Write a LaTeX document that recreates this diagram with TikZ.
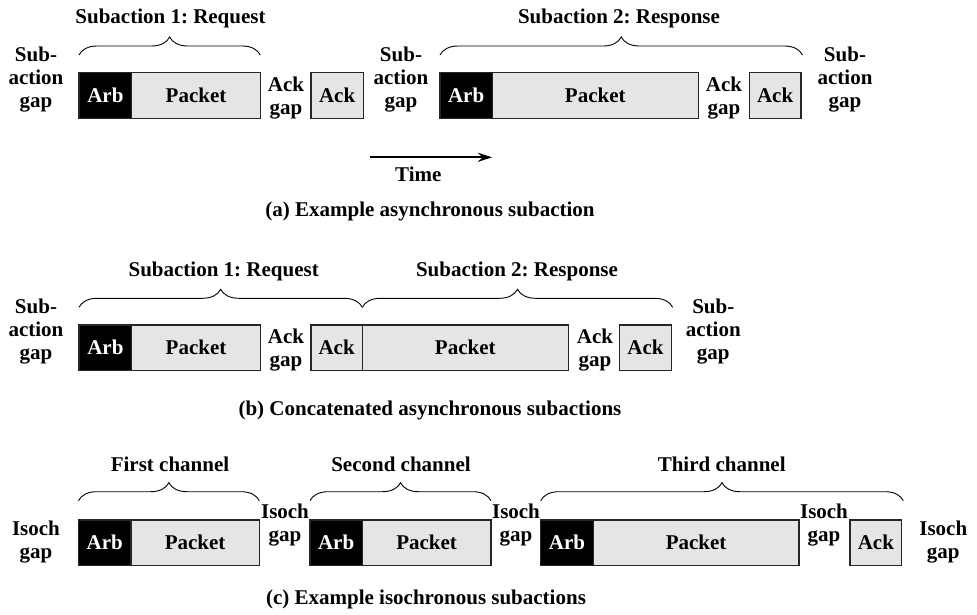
\documentclass[tikz,border=0pt]{standalone}
\usepackage{fontspec}
\setmainfont{Liberation Serif}
\frenchspacing
\usetikzlibrary{decorations.pathreplacing,arrows.meta}
\newcommand\figfont{\fontsize{21}{23}\selectfont\bfseries}
\begin{document}
\begin{tikzpicture}[x=1pt,y=-1pt,
  box/.style={draw=black!85, line width=1.2pt, minimum height=45.6pt, inner sep=0pt, outer sep=0pt, anchor=north west, font=\figfont},
  arbbox/.style={box, fill=black, text=white},
  pktbox/.style={box, fill=black!10},
  lbl/.style={font=\figfont, inner sep=0pt, align=center},
  brc/.style={decorate, decoration={brace, amplitude=18pt}, line width=0.9pt}]
\useasboundingbox (0,0) rectangle (977,615);

% ---------- (a)
\node[arbbox, minimum width=52.7pt] (aArb) at (79,72.7) {Arb};
\node[pktbox, minimum width=128.6pt] (aPkt) at (131.7,72.7) {Packet};
\node[pktbox, minimum width=52.3pt] (aAck) at (311,72.7) {Ack};
\node[arbbox, minimum width=52.3pt] (aArbB) at (440,72.7) {Arb};
\node[pktbox, minimum width=206pt] (aPktB) at (492.3,72.7) {Packet};
\node[pktbox, minimum width=51.7pt] (aAckB) at (749.3,72.7) {Ack};

\draw[brc] ([yshift=17.7pt]aArb.north west) -- ([yshift=17.7pt]aPkt.north east);
\draw[brc] ([yshift=17.7pt]aArbB.north west) -- ([yshift=17.7pt,xshift=1.5pt]aAckB.north east);

\node[lbl, anchor=base] (aT1) at (170.5,24) {Subaction 1: Request};
\node[lbl, anchor=base] (aT2) at (619,24) {Subaction 2: Response};
\node[lbl] (aGapL) at (36,80) {Sub-\\action\\gap};
\node[lbl] (aAckGap) at (286,98) {Ack\\gap};
\node[lbl] (aGapM) at (401,80) {Sub-\\action\\gap};
\node[lbl] (aAckGapB) at (724,98) {Ack\\gap};
\node[lbl] (aGapR) at (845,80) {Sub-\\action\\gap};

\coordinate (tS) at (370,157.3);
\coordinate (tE) at (492,157.3);
\draw[line width=2.3pt, -{Stealth[length=14pt,width=9pt]}] (tS) -- (tE);
\node[lbl, anchor=base] (time) at (418.3,181.7) {Time};
\node[lbl, anchor=base] (capA) at (430,216.7) {(a) Example asynchronous subaction};

% ---------- (b)
\node[arbbox, minimum width=52.7pt] (bArb) at (79,325) {Arb};
\node[pktbox, minimum width=128.6pt] (bPkt) at (131.7,325) {Packet};
\node[pktbox, minimum width=51.3pt] (bAck) at (311,325) {Ack};
\node[pktbox, minimum width=206pt] (bPktB) at (362.3,325) {Packet};
\node[pktbox, minimum width=52.4pt] (bAckB) at (619.3,325) {Ack};

\draw[brc] ([yshift=17.7pt]bArb.north west) -- ([yshift=17.7pt]bPktB.north west);
\draw[brc] ([yshift=17.7pt]bPktB.north west) -- ([yshift=17.7pt,xshift=1pt]bAckB.north east);

\node[lbl, anchor=base] (bT1) at (223.7,276.7) {Subaction 1: Request};
\node[lbl, anchor=base] (bT2) at (517,276.7) {Subaction 2: Response};
\node[lbl] (bGapL) at (36,332) {Sub-\\action\\gap};
\node[lbl] (bAckGap) at (286,350) {Ack\\gap};
\node[lbl] (bAckGapB) at (595,350) {Ack\\gap};
\node[lbl] (bGapR) at (713.3,332) {Sub-\\action\\gap};
\node[lbl, anchor=base] (capB) at (430,415) {(b) Concatenated asynchronous subactions};

% ---------- (c)
\node[arbbox, minimum width=52.4pt] (cArb) at (78.5,520) {Arb};
\node[pktbox, minimum width=128.4pt] (cPkt) at (130.9,520) {Packet};
\node[arbbox, minimum width=52.3pt] (cArbB) at (310,520) {Arb};
\node[pktbox, minimum width=128.7pt] (cPktB) at (362.3,520) {Packet};
\node[arbbox, minimum width=52.6pt] (cArbC) at (540.7,520) {Arb};
\node[pktbox, minimum width=205.7pt] (cPktC) at (593.3,520) {Packet};
\node[pktbox, minimum width=51.7pt] (cAck) at (850,520) {Ack};

\draw[brc] ([yshift=19.3pt]cArb.north west) -- ([yshift=19.3pt]cPkt.north east);
\draw[brc] ([yshift=19.3pt]cArbB.north west) -- ([yshift=19.3pt]cPktB.north east);
\draw[brc] ([yshift=19.3pt]cArbC.north west) -- ([yshift=19.3pt,xshift=1.6pt]cAck.north east);

\node[lbl, anchor=base] (cT1) at (170,471.7) {First channel};
\node[lbl, anchor=base] (cT2) at (401,471.7) {Second channel};
\node[lbl, anchor=base] (cT3) at (721.7,471.7) {Third channel};
\node[lbl] (cGapL) at (36,542.5) {Isoch\\gap};
\node[lbl] (cGap1) at (285,525) {Isoch\\gap};
\node[lbl] (cGap2) at (516,525) {Isoch\\gap};
\node[lbl] (cGap3) at (824,525) {Isoch\\gap};
\node[lbl] (cGapR) at (943.3,542.5) {Isoch\\gap};
\node[lbl, anchor=base] (capC) at (426,604) {(c) Example isochronous subactions};
\end{tikzpicture}
\end{document}
